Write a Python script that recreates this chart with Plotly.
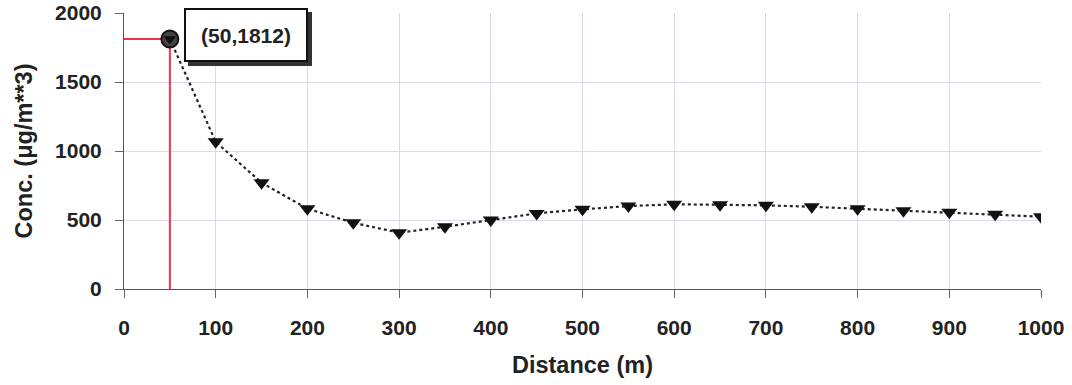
import plotly.graph_objects as go

distance = [50, 100, 150, 200, 250, 300, 350, 400, 450, 500, 550, 600, 650, 700,
            750, 800, 850, 900, 950, 1000]
conc = [1812, 1067, 770, 582, 480, 408, 451, 500, 548, 577, 601, 614, 611, 606,
        596, 582, 567, 556, 541, 524]
x_ticks = [0, 100, 200, 300, 400, 500, 600, 700, 800, 900, 1000]
y_ticks = [0, 500, 1000, 1500, 2000]
peak_label = "(50,1812)"

FONT = "Liberation Sans, Arial, sans-serif"
RED = "#f0304c"

fig = go.Figure()

# red guide lines to the peak
fig.add_trace(go.Scatter(
    x=[0, distance[0], distance[0]], y=[conc[0], conc[0], 0],
    mode="lines", line=dict(color=RED, width=2), hoverinfo="skip", showlegend=False))

# main series
fig.add_trace(go.Scatter(
    x=distance, y=conc, mode="lines+markers",
    line=dict(color="#222", width=2.2, dash="dot"),
    marker=dict(symbol="triangle-down", size=14, color="#111"),
    showlegend=False))

# highlighted peak
fig.add_trace(go.Scatter(
    x=[distance[0]], y=[conc[0]], mode="markers",
    marker=dict(symbol="circle", size=17, color="#444", line=dict(color="#111", width=2)),
    showlegend=False))
fig.add_trace(go.Scatter(
    x=[distance[0]], y=[conc[0]], mode="markers",
    marker=dict(symbol="triangle-down", size=11, color="#111"),
    showlegend=False))

# label box with shadow
lbl_font = dict(family=FONT, size=21, color="#222", weight="bold")
common = dict(x=133, y=1838, xref="x", yref="y", showarrow=False,
              borderpad=13, borderwidth=2, width=94, height=24)
fig.add_annotation(text="&nbsp;", bgcolor="#333", bordercolor="#333",
                   xshift=4, yshift=-4, font=lbl_font, **common)
fig.add_annotation(text=peak_label, bgcolor="white", bordercolor="#111", font=lbl_font, **common)

tick_font = dict(family=FONT, size=21, color="#222", weight="bold")
title_font = dict(family=FONT, size=23.5, color="#222", weight="bold")

fig.update_layout(
    width=1072, height=385,
    margin=dict(l=124, r=31, t=13, b=96),
    plot_bgcolor="white", paper_bgcolor="white",
    font=dict(family=FONT, color="#222"),
    xaxis=dict(
        range=[0, 1000], tickvals=x_ticks, ticks="outside", ticklen=8, tickcolor="#666",
        showgrid=True, gridcolor="#dcd8e8", gridwidth=1, automargin=False,
        showline=True, linecolor="#555", linewidth=1, zeroline=False,
        tickfont=tick_font, ticklabelstandoff=12, ticklabeloverflow="allow",
        title=dict(text="Distance (m)", font=title_font, standoff=18),
    ),
    yaxis=dict(
        range=[0, 2000], tickvals=y_ticks, ticks="outside", ticklen=8, tickcolor="#666",
        showgrid=True, gridcolor="#dcd8e8", gridwidth=1, automargin=False,
        showline=True, linecolor="#555", linewidth=1, zeroline=False,
        tickfont=tick_font, ticklabelstandoff=9, ticklabeloverflow="allow",
        title=dict(text="Conc. (μg/m**3)", font=title_font, standoff=15),
    ),
)

fig.write_html("out.html", config={"displayModeBar": False},
               post_script="document.body.style.margin='0';")
